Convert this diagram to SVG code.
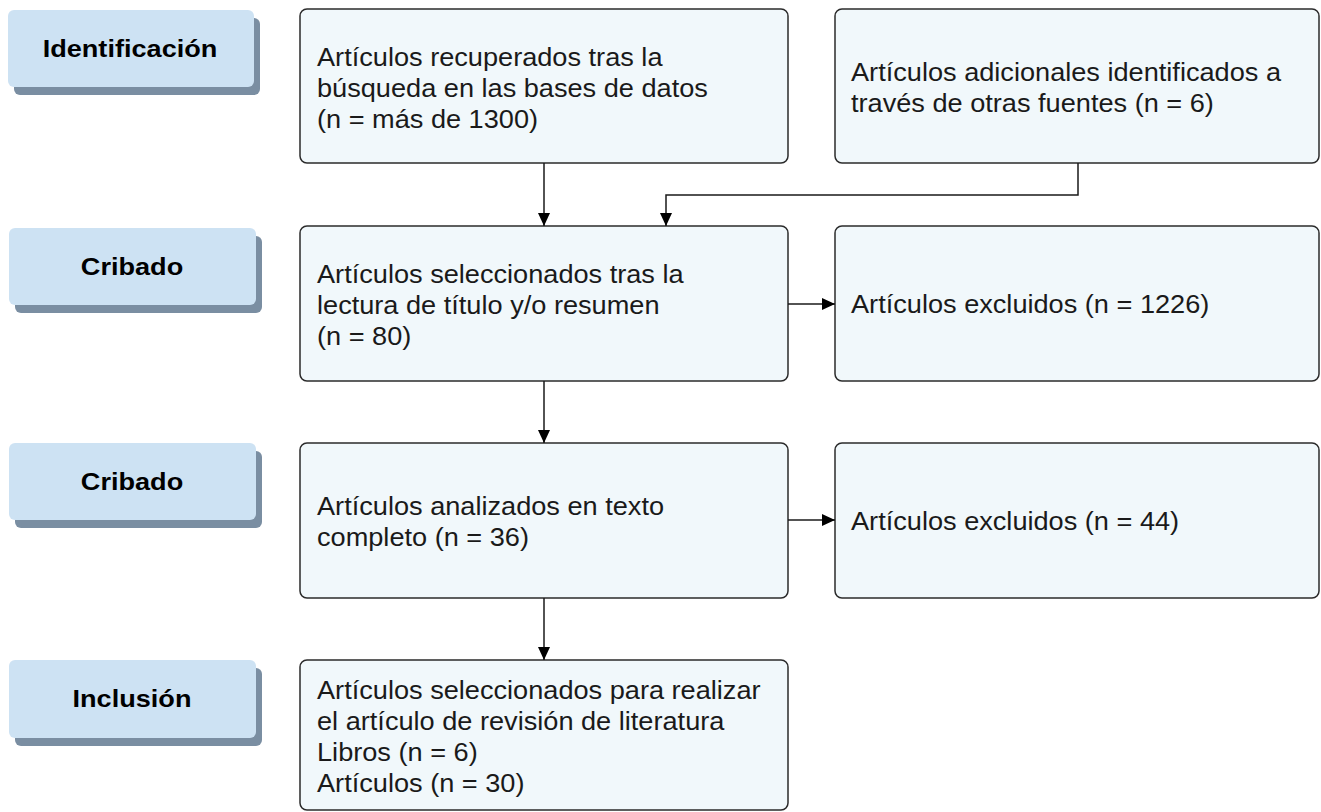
<svg xmlns="http://www.w3.org/2000/svg" width="1321" height="812" viewBox="0 0 1321 812">
<style>
.stage{fill:#cde2f3;}
.shadow{fill:#7a8ea2;}
.box{fill:#f1f8fb;stroke:#2b2b2b;stroke-width:1.5;}
.lbl{font-family:"Liberation Sans",Arial,sans-serif;font-size:24px;font-weight:bold;fill:#000;text-anchor:middle;}
.txt{font-family:"Liberation Sans",Arial,sans-serif;font-size:25.5px;fill:#1a1a1a;}
.conn{fill:none;stroke:#1a1a1a;stroke-width:1.5;}
</style>
<defs>
<marker id="arr" markerUnits="userSpaceOnUse" markerWidth="14" markerHeight="12" refX="13" refY="6" orient="auto">
<path d="M0,0 L13,6 L0,12 Z" fill="#000"/>
</marker>
</defs>

<g id="stage-identificacion">
<rect class="shadow" x="14" y="18" width="246" height="77" rx="6"/>
<rect class="stage" x="8" y="10" width="246" height="77" rx="6"/>
<text class="lbl" transform="translate(130,57) scale(1.13,1)">Identificación</text>
</g>
<g id="stage-cribado1">
<rect class="shadow" x="15" y="236" width="247" height="77" rx="6"/>
<rect class="stage" x="9" y="228" width="247" height="77" rx="6"/>
<text class="lbl" transform="translate(132,275) scale(1.13,1)">Cribado</text>
</g>
<g id="stage-cribado2">
<rect class="shadow" x="15" y="451" width="247" height="77" rx="6"/>
<rect class="stage" x="9" y="443" width="247" height="77" rx="6"/>
<text class="lbl" transform="translate(132,490) scale(1.13,1)">Cribado</text>
</g>
<g id="stage-inclusion">
<rect class="shadow" x="15" y="668" width="247" height="78" rx="6"/>
<rect class="stage" x="9" y="660" width="247" height="78" rx="6"/>
<text class="lbl" transform="translate(132,707) scale(1.13,1)">Inclusión</text>
</g>

<g id="n-recuperados">
<rect class="box" x="300" y="9" width="488" height="154" rx="7"/>
<text class="txt" transform="translate(317,66) scale(1.065,1)"><tspan x="0" y="0">Artículos recuperados tras la</tspan><tspan x="0" y="31">búsqueda en las bases de datos</tspan><tspan x="0" y="62">(n = más de 1300)</tspan></text>
</g>
<g id="n-adicionales">
<rect class="box" x="835" y="9" width="484" height="154" rx="7"/>
<text class="txt" transform="translate(851,81) scale(1.065,1)"><tspan x="0" y="0">Artículos adicionales identificados a</tspan><tspan x="0" y="31">través de otras fuentes (n = 6)</tspan></text>
</g>
<g id="n-seleccionados">
<rect class="box" x="300" y="226" width="488" height="155" rx="7"/>
<text class="txt" transform="translate(317,283) scale(1.065,1)"><tspan x="0" y="0">Artículos seleccionados tras la</tspan><tspan x="0" y="31">lectura de título y/o resumen</tspan><tspan x="0" y="62">(n = 80)</tspan></text>
</g>
<g id="n-excluidos1">
<rect class="box" x="835" y="226" width="484" height="155" rx="7"/>
<text class="txt" transform="translate(851,313) scale(1.065,1)">Artículos excluidos (n = 1226)</text>
</g>
<g id="n-analizados">
<rect class="box" x="300" y="443" width="488" height="155" rx="7"/>
<text class="txt" transform="translate(317,515) scale(1.065,1)"><tspan x="0" y="0">Artículos analizados en texto</tspan><tspan x="0" y="31">completo (n = 36)</tspan></text>
</g>
<g id="n-excluidos2">
<rect class="box" x="835" y="443" width="484" height="155" rx="7"/>
<text class="txt" transform="translate(851,530) scale(1.065,1)">Artículos excluidos (n = 44)</text>
</g>
<g id="n-incluidos">
<rect class="box" x="300" y="660" width="488" height="150" rx="7"/>
<text class="txt" transform="translate(317,699) scale(1.065,1)"><tspan x="0" y="0">Artículos seleccionados para realizar</tspan><tspan x="0" y="31">el artículo de revisión de literatura</tspan><tspan x="0" y="62">Libros (n = 6)</tspan><tspan x="0" y="93">Artículos (n = 30)</tspan></text>
</g>

<g id="connectors">
<path class="conn" d="M544,163 V226" marker-end="url(#arr)"/>
<path class="conn" d="M1078,163 V195 H666 V226" marker-end="url(#arr)"/>
<path class="conn" d="M788,304 H835" marker-end="url(#arr)"/>
<path class="conn" d="M544,381 V443" marker-end="url(#arr)"/>
<path class="conn" d="M788,520 H835" marker-end="url(#arr)"/>
<path class="conn" d="M544,598 V660" marker-end="url(#arr)"/>
</g>
</svg>
